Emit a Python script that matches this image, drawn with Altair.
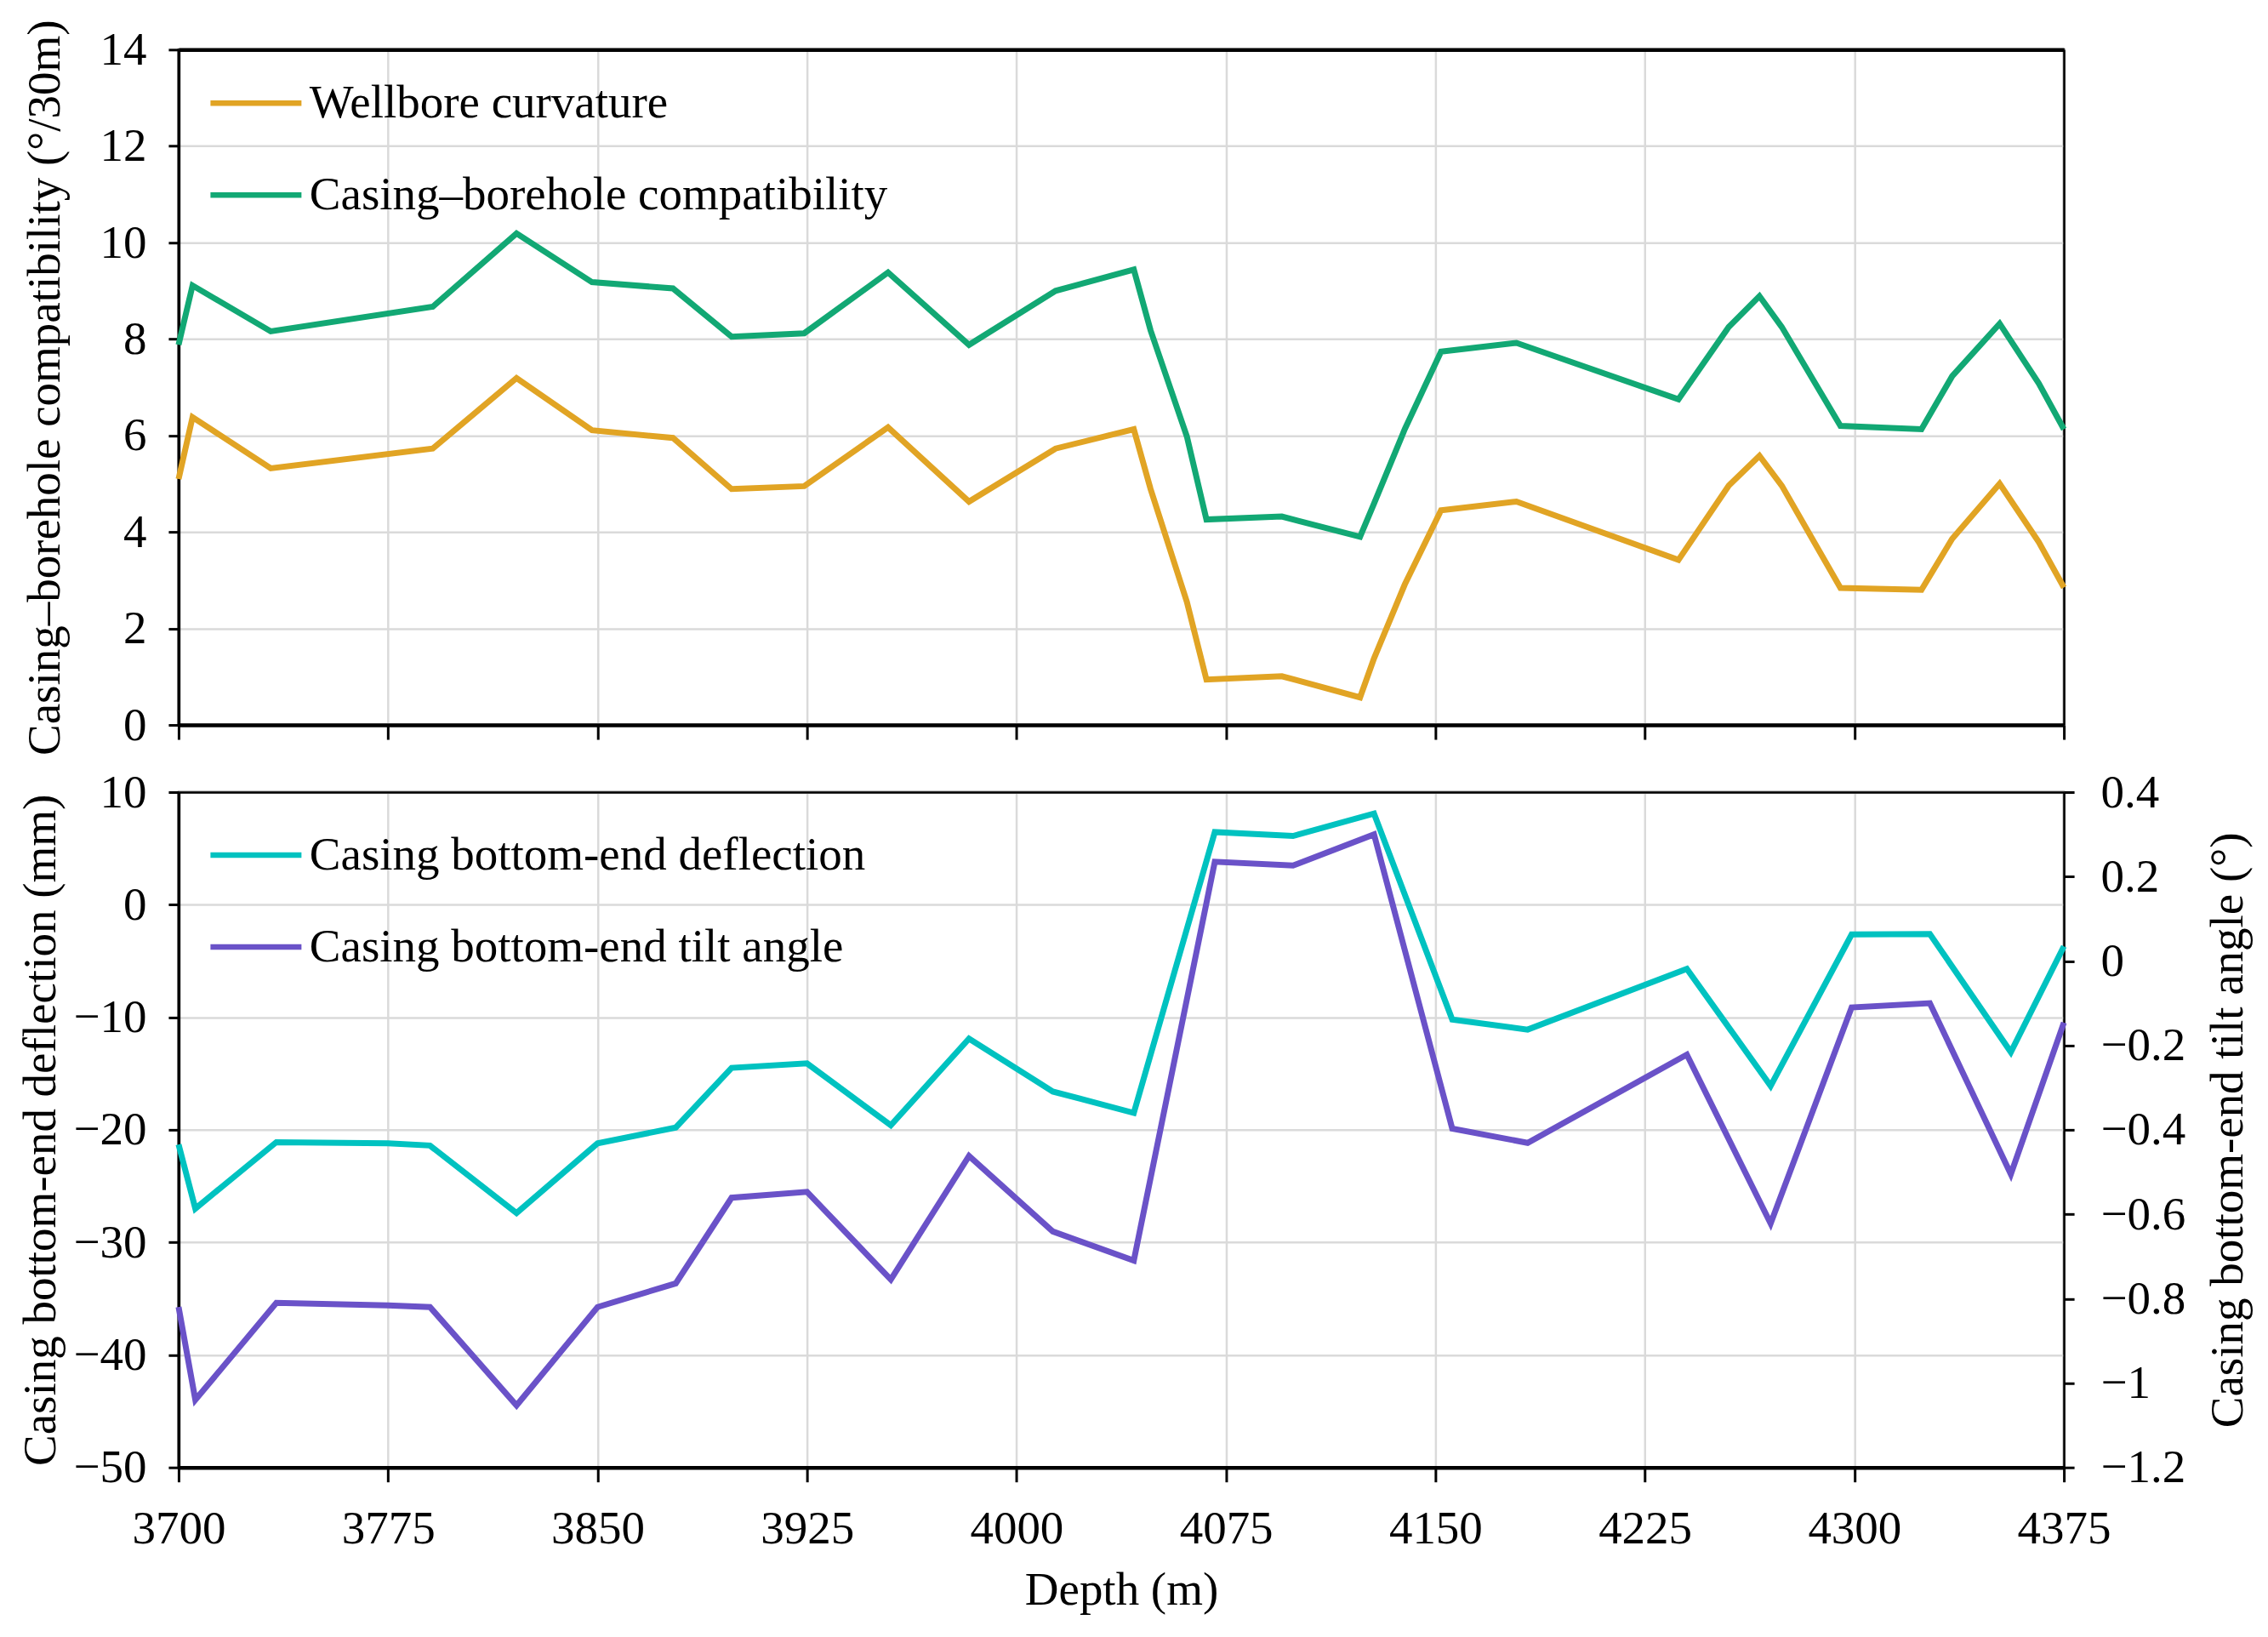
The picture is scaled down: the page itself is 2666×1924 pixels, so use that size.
import altair as alt
import pandas as pd

FONT = "Liberation Serif"

# --- top panel: wellbore curvature / casing-borehole compatibility (°/30m)
depth_top = [3700, 3705, 3733, 3791, 3821, 3848, 3877, 3898, 3924, 3954, 3983, 4014,
             4042, 4048, 4061, 4068, 4095, 4123, 4128, 4139, 4152, 4179, 4237, 4255,
             4266, 4274, 4295, 4324, 4335, 4352, 4366, 4375]
curvature = [5.1, 6.38, 5.32, 5.73, 7.19, 6.11, 5.95, 4.89, 4.95, 6.17, 4.63, 5.73,
             6.13, 4.89, 2.55, 0.94, 1.01, 0.57, 1.38, 2.91, 4.45, 4.63, 3.42, 4.96,
             5.58, 4.96, 2.84, 2.8, 3.86, 5.0, 3.79, 2.85]
compat = [7.88, 9.11, 8.16, 8.67, 10.19, 9.18, 9.05, 8.05, 8.12, 9.38, 7.88, 9.0,
          9.44, 8.18, 5.98, 4.26, 4.32, 3.9, 4.59, 6.13, 7.74, 7.92, 6.75, 8.25,
          8.89, 8.25, 6.2, 6.13, 7.23, 8.32, 7.08, 6.13]

# --- bottom panel: casing bottom-end deflection (mm) / tilt angle (°)
depth_bot = [3700, 3706, 3735, 3775, 3790, 3821, 3850, 3878, 3898, 3925, 3955, 3983,
             4013, 4042, 4071, 4099, 4128, 4156, 4183, 4240, 4270, 4299, 4327, 4356, 4375]
deflection = [-21.3, -27.0, -21.1, -21.2, -21.4, -27.4, -21.2, -19.8, -14.5, -14.1, -19.6, -11.9,
              -16.6, -18.5, 6.45, 6.1, 8.1, -10.2, -11.1, -5.7, -16.1, -2.65, -2.6, -13.1, -3.7]
tilt = [-0.82, -1.04, -0.81, -0.816, -0.82, -1.053, -0.82, -0.764, -0.561, -0.547, -0.755, -0.462,
        -0.641, -0.71, 0.235, 0.226, 0.30, -0.397, -0.431, -0.222, -0.622, -0.11, -0.10, -0.505, -0.146]

top_names = ["Wellbore curvature", "Casing\u2013borehole compatibility"]
bot_names = ["Casing bottom-end deflection", "Casing bottom-end tilt angle"]
top_colors = ["#E1A424", "#12A874"]
bot_colors = ["#00C2C0", "#6A52C8"]

depth_ticks = list(range(3700, 4376, 75))

top_df = pd.concat([
    pd.DataFrame({"depth": depth_top, "val": curvature, "series": top_names[0]}),
    pd.DataFrame({"depth": depth_top, "val": compat, "series": top_names[1]}),
])
bot_df = pd.concat([
    pd.DataFrame({"depth": depth_bot, "mm": deflection, "series": bot_names[0]}),
    pd.DataFrame({"depth": depth_bot, "deg": tilt, "series": bot_names[1]}),
])

W, H = 2217, 794
LW = 7
x_scale = alt.Scale(domain=[3700, 4375], nice=False, zero=False)


def legend(y):
    return alt.Legend(orient="none", legendX=34, legendY=y, title=None,
                      symbolType="stroke", symbolSize=11449, symbolStrokeWidth=6.5,
                      labelFontSize=55, labelOffset=6, labelLimit=0,
                      padding=0, rowPadding=23)


def frame_axis(orient, width):
    # plain black frame line drawn above the grid
    return alt.Axis(orient=orient, labels=False, ticks=False, grid=False, title=None,
                    domainWidth=width)


# --- top panel
top_lines = alt.Chart(top_df).mark_line(strokeWidth=LW).encode(
    alt.X("depth:Q", scale=x_scale,
          axis=alt.Axis(values=depth_ticks, labels=False, title=None, tickSize=17, domainWidth=4.5)),
    alt.Y("val:Q", scale=alt.Scale(domain=[0, 14], nice=False),
          axis=alt.Axis(values=list(range(0, 15, 2)), title="Casing\u2013borehole compatibility (\u00b0/30m)",
                        titleAngle=270, titleX=-157, titleBaseline="middle",
                        tickSize=12, labelPadding=26)),
    alt.Color("series:N", scale=alt.Scale(domain=top_names, range=top_colors), legend=legend(6)),
)
top_frame = alt.Chart(top_df).mark_line(opacity=0).encode(
    alt.X("depth:Q", scale=x_scale, axis=frame_axis("top", 4.5)),
    alt.Y("val:Q", scale=alt.Scale(domain=[0, 14], nice=False), axis=frame_axis("right", 2.5)),
)
top = alt.layer(top_lines, top_frame).resolve_axis(x="independent", y="independent").properties(
    width=W, height=H)

# --- bottom panel (dual y)
x_bot = alt.X("depth:Q", scale=x_scale,
              axis=alt.Axis(values=depth_ticks, format="d", labelFlush=False, title="Depth (m)",
                            tickSize=17, labelPadding=29, titleY=144, titleBaseline="middle",
                            domainWidth=4.5))
bot_color = alt.Color("series:N", scale=alt.Scale(domain=bot_names, range=bot_colors), legend=legend(17))

defl_line = alt.Chart(bot_df).transform_filter(
    alt.datum.series == bot_names[0]
).mark_line(strokeWidth=LW).encode(
    x_bot,
    alt.Y("mm:Q", scale=alt.Scale(domain=[-50, 10], nice=False),
          axis=alt.Axis(values=list(range(-50, 11, 10)), title="Casing bottom-end deflection (mm)",
                        titleAngle=270, titleX=-162, titleBaseline="middle",
                        tickSize=12, labelPadding=26)),
    bot_color,
)

tilt_line = alt.Chart(bot_df).transform_filter(
    alt.datum.series == bot_names[1]
).mark_line(strokeWidth=LW).encode(
    alt.X("depth:Q", scale=x_scale, axis=None),
    alt.Y("deg:Q", scale=alt.Scale(domain=[-1.2, 0.4], nice=False),
          axis=alt.Axis(orient="right", values=[0.4, 0.2, 0, -0.2, -0.4, -0.6, -0.8, -1, -1.2],
                        format="~g", grid=False, title="Casing bottom-end tilt angle (\u00b0)",
                        titleAngle=270, titleX=192, titleBaseline="middle",
                        tickSize=12, labelPadding=31, domainWidth=2.5)),
    bot_color,
)

bot_frame = alt.Chart(bot_df).transform_filter(
    alt.datum.series == bot_names[0]
).mark_line(opacity=0).encode(
    alt.X("depth:Q", scale=x_scale, axis=frame_axis("top", 2.5)),
    alt.Y("mm:Q", scale=alt.Scale(domain=[-50, 10], nice=False), axis=None),
)

bottom = alt.layer(defl_line, tilt_line, bot_frame).resolve_scale(y="independent").resolve_axis(
    x="independent").properties(width=W, height=H)

chart = alt.vconcat(top, bottom, spacing=79, bounds="flush").resolve_scale(
    color="independent", y="independent"
).properties(
    padding={"left": 11, "top": 13, "right": 10, "bottom": 10}
).configure(
    font=FONT
).configure_axis(
    labelFont=FONT, titleFont=FONT, labelFontSize=55, titleFontSize=55,
    titleFontWeight="normal", labelColor="black", titleColor="black",
    domainColor="black", tickColor="black", domainWidth=3.5, tickWidth=3,
    gridColor="#dadada", gridWidth=2.5
).configure_view(
    stroke="black", strokeWidth=2.5
).configure_legend(
    labelFont=FONT, labelColor="black"
)

chart.save("out.html", embed_options={"renderer": "svg", "actions": False})
